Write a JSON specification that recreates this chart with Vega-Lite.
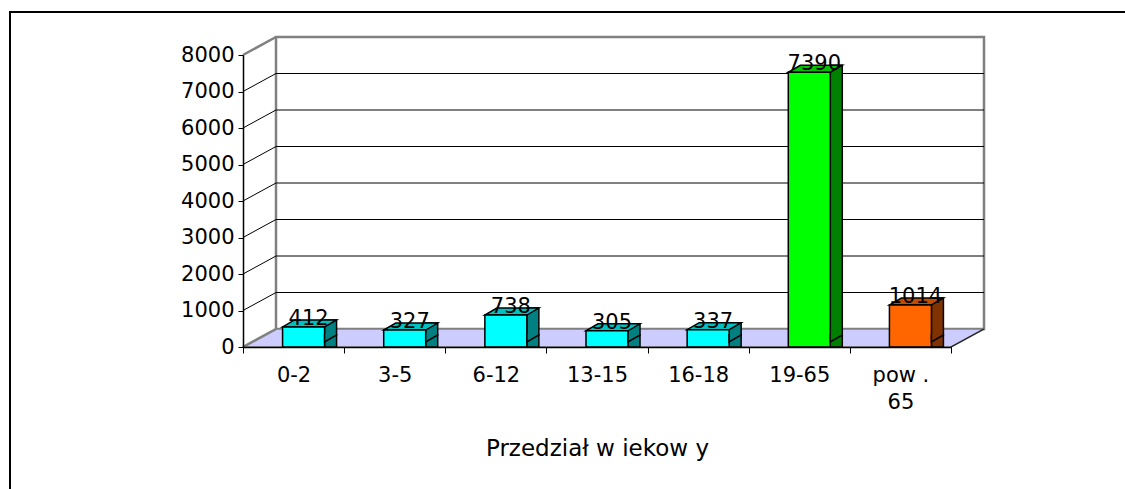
{
  "$schema": "https://vega.github.io/schema/vega-lite/v6.json",
  "width": 708,
  "height": 292,
  "autosize": "none",
  "padding": {"left": 243, "top": 55, "right": 174, "bottom": 142},
  "background": "white",
  "datasets": {
    "wiek": [
      {"grupa": "0-2", "liczba": 412},
      {"grupa": "3-5", "liczba": 327},
      {"grupa": "6-12", "liczba": 738},
      {"grupa": "13-15", "liczba": 305},
      {"grupa": "16-18", "liczba": 337},
      {"grupa": "19-65", "liczba": 7390},
      {"grupa": "pow . 65", "liczba": 1014}
    ],
    "siatka": [
      {"v": 0}, {"v": 1000}, {"v": 2000}, {"v": 3000}, {"v": 4000},
      {"v": 5000}, {"v": 6000}, {"v": 7000}, {"v": 8000}
    ],
    "jeden": [{"k": 1}]
  },
  "config": {
    "view": {"stroke": null},
    "font": "DejaVu Sans"
  },
  "resolve": {"scale": {"x": "independent"}, "axis": {"x": "independent", "y": "independent"}},
  "layer": [
    {
      "layer": [
        {
          "data": {"name": "jeden"},
          "mark": {"type": "rect", "fill": "white", "fillOpacity": 0, "stroke": "black", "strokeWidth": 2, "xOffset": -233, "x2Offset": 200, "yOffset": -43, "y2Offset": 200},
          "encoding": {
            "x": {"datum": 0, "type": "quantitative", "scale": {"domain": [0, 7], "nice": false}, "axis": null},
            "x2": {"datum": 7},
            "y": {"datum": 8000, "type": "quantitative", "scale": {"domain": [0, 8000], "nice": false}, "axis": null, "title": null},
            "y2": {"datum": 0}
          }
        },
        {
          "data": {"name": "jeden"},
          "mark": {"type": "rect", "fill": "white", "stroke": "#808080", "strokeWidth": 2.5, "xOffset": 33, "x2Offset": 33, "yOffset": -18, "y2Offset": -18},
          "encoding": {
            "x": {"datum": 0, "type": "quantitative", "scale": {"domain": [0, 7], "nice": false}, "axis": null},
            "x2": {"datum": 7},
            "y": {"datum": 0, "type": "quantitative", "axis": null, "title": null},
            "y2": {"datum": 8000}
          }
        },
        {
          "data": {"name": "jeden"},
          "mark": {"type": "point", "shape": "M-1,0.024292L-0.910931,-0.024292L1,-0.024292L0.910931,0.024292Z", "size": 549081, "filled": true, "opacity": 1, "fill": "#CCCCFF", "stroke": "#808080", "strokeWidth": 1.5, "xOffset": 16.5, "yOffset": -9},
          "encoding": {
            "x": {"datum": 3.5, "type": "quantitative", "scale": {"domain": [0, 7], "nice": false}, "axis": null},
            "y": {"datum": 0, "type": "quantitative", "axis": null, "title": null}
          }
        },
        {
          "data": {"name": "jeden"},
          "mark": {"type": "rule", "color": "#202020", "strokeWidth": 1.2, "x2Offset": 33, "y2Offset": -18},
          "encoding": {
            "x": {"datum": 7, "type": "quantitative", "scale": {"domain": [0, 7], "nice": false}, "axis": null},
            "x2": {"datum": 7},
            "y": {"datum": 0, "type": "quantitative", "axis": null, "title": null},
            "y2": {"datum": 0}
          }
        },
        {
          "data": {"name": "siatka"},
          "mark": {"type": "rule", "x2Offset": 33, "y2Offset": -18},
          "encoding": {
            "x": {"datum": 0, "type": "quantitative", "scale": {"domain": [0, 7], "nice": false}, "axis": null},
            "x2": {"datum": 0},
            "y": {"field": "v", "type": "quantitative", "axis": null, "title": null},
            "y2": {"field": "v"},
            "stroke": {"condition": {"test": "datum.v == 0 || datum.v == 8000", "value": "#808080"}, "value": "black"},
            "strokeWidth": {"condition": {"test": "datum.v == 0 || datum.v == 8000", "value": 2.5}, "value": 1}
          }
        },
        {
          "data": {"name": "siatka"},
          "transform": [{"filter": "datum.v > 0 && datum.v < 8000"}],
          "mark": {"type": "rule", "color": "black", "strokeWidth": 1, "xOffset": 33, "x2Offset": 33, "yOffset": -18},
          "encoding": {
            "x": {"datum": 0, "type": "quantitative", "scale": {"domain": [0, 7], "nice": false}, "axis": null},
            "x2": {"datum": 7},
            "y": {"field": "v", "type": "quantitative", "axis": null, "title": null}
          }
        }
      ]
    },
    {
      "data": {"name": "wiek"},
      "encoding": {
        "x": {
          "field": "grupa", "type": "nominal", "sort": null,
          "scale": {"paddingInner": 0, "paddingOuter": 0},
          "title": "Przedział w iekow y",
          "axis": {
            "orient": "bottom",
            "domainColor": "black", "domainWidth": 1.5,
            "tickColor": "black", "tickSize": 6, "tickWidth": 1, "tickBand": "extent",
            "labelFont": "DejaVu Sans", "labelFontSize": 21, "labelColor": "black",
            "labelPadding": 11, "labelAngle": 0, "labelLineHeight": 27,
            "labelExpr": "datum.value == 'pow . 65' ? ['pow .', '65'] : datum.label",
            "titleFont": "DejaVu Sans", "titleFontSize": 23, "titleFontWeight": "normal",
            "titleColor": "black", "titleBaseline": "alphabetic", "titleY": 108,
            "grid": false, "zindex": 1
          }
        },
        "y": {
          "field": "liczba", "type": "quantitative", "stack": null,
          "scale": {"domain": [0, 8000], "nice": false},
          "title": null,
          "axis": {
            "orient": "left",
            "values": [0, 1000, 2000, 3000, 4000, 5000, 6000, 7000, 8000],
            "format": "d",
            "domainColor": "black", "domainWidth": 1.5,
            "tickColor": "black", "tickSize": 5, "tickWidth": 1,
            "labelFont": "DejaVu Sans", "labelFontSize": 21, "labelColor": "black",
            "labelPadding": 4, "grid": false, "zindex": 1
          }
        }
      },
      "resolve": {"scale": {"fill": "independent"}},
      "layer": [
        {
          "mark": {"type": "bar", "width": 12, "xOffset": 37, "yOffset": -12, "y2Offset": -12, "stroke": "black", "strokeWidth": 1.5},
          "encoding": {
            "fill": {"field": "grupa", "type": "nominal", "legend": null,
              "scale": {"domain": ["0-2", "3-5", "6-12", "13-15", "16-18", "19-65", "pow . 65"],
                "range": ["#008080", "#008080", "#008080", "#008080", "#008080", "#008000", "#803300"]}}
          }
        },
        {
          "mark": {"type": "point", "shape": "M-1,0.1296L0.5556,0.1296L1,-0.1296L-0.5556,-0.1296Z", "size": 2916, "filled": true, "opacity": 1, "xOffset": 16, "yOffset": -8.5, "stroke": "black", "strokeWidth": 1.5},
          "encoding": {
            "fill": {"field": "grupa", "type": "nominal", "legend": null,
              "scale": {"domain": ["0-2", "3-5", "6-12", "13-15", "16-18", "19-65", "pow . 65"],
                "range": ["#00C0C0", "#00C0C0", "#00C0C0", "#00C0C0", "#00C0C0", "#00C000", "#C04D00"]}}
          }
        },
        {
          "mark": {"type": "bar", "width": 42, "xOffset": 10, "yOffset": -5, "y2Offset": -5, "stroke": "black", "strokeWidth": 1.5},
          "encoding": {
            "fill": {"field": "grupa", "type": "nominal", "legend": null,
              "scale": {"domain": ["0-2", "3-5", "6-12", "13-15", "16-18", "19-65", "pow . 65"],
                "range": ["#00FFFF", "#00FFFF", "#00FFFF", "#00FFFF", "#00FFFF", "#00FF00", "#FF6600"]}}
          }
        },
        {
          "mark": {"type": "text", "dx": 15, "dy": -7, "baseline": "alphabetic", "align": "center", "fontSize": 21, "font": "DejaVu Sans", "fill": "black"},
          "encoding": {
            "text": {"field": "liczba", "type": "quantitative", "format": "d"}
          }
        }
      ]
    },
    {
      "data": {"name": "wiek"},
      "mark": {"type": "point", "shape": "M-1,-0.6667L-1,0.6667L1,-0.5L1,-0.6667", "size": 144, "filled": true, "opacity": 1, "xOffset": 37, "yOffset": -9, "stroke": "black", "strokeWidth": 1.5},
      "encoding": {
        "x": {"field": "grupa", "type": "nominal", "sort": null, "scale": {"paddingInner": 0, "paddingOuter": 0}, "axis": null},
        "y": {"datum": 0, "type": "quantitative", "axis": null, "title": null},
        "fill": {"field": "grupa", "type": "nominal", "legend": null,
          "scale": {"domain": ["0-2", "3-5", "6-12", "13-15", "16-18", "19-65", "pow . 65"],
            "range": ["#008080", "#008080", "#008080", "#008080", "#008080", "#008000", "#803300"]}}
      }
    }
  ]
}
